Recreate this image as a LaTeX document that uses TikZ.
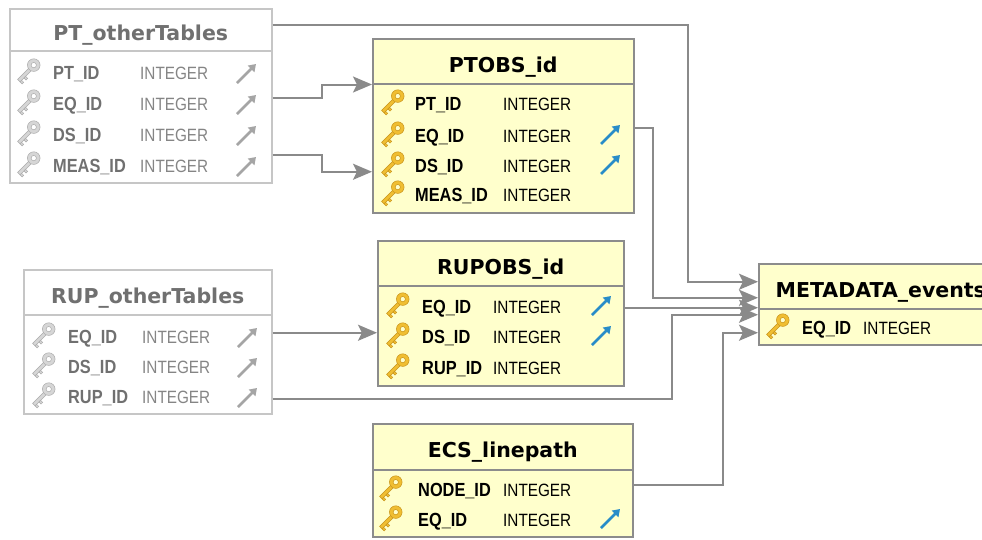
\documentclass[tikz,border=0pt]{standalone}
\usepackage{fontspec}
\setmainfont{Liberation Sans}
\newfontfamily\titlefont{DejaVu Sans}
\newfontfamily\fieldfont{Liberation Sans}[FakeStretch=0.86]
\usetikzlibrary{arrows.meta}

\definecolor{tabfill}{RGB}{255,255,204}
\definecolor{tabedge}{RGB}{140,140,140}
\definecolor{otheredge}{RGB}{198,198,198}
\definecolor{othertext}{RGB}{112,112,112}
\definecolor{linkgray}{RGB}{138,138,138}
\definecolor{keygold}{RGB}{240,190,50}
\definecolor{keygoldedge}{RGB}{200,148,28}
\definecolor{keygray}{RGB}{214,214,214}
\definecolor{keygrayedge}{RGB}{172,172,172}
\definecolor{fkblue}{RGB}{40,140,200}
\definecolor{fkgray}{RGB}{165,165,165}

\tikzset{
  tab/.style={draw=tabedge, fill=tabfill, line width=1.5pt, anchor=north west, inner sep=0pt},
  othertab/.style={draw=otheredge, fill=white, line width=1.5pt, anchor=north west, inner sep=0pt, text=othertext},
  tabtitle/.style={font=\titlefont\bfseries\fontsize{20.5}{24}\selectfont, text height=22pt, text depth=0pt},
  fieldname/.style={anchor=west, inner sep=0pt, text height=13.6pt, text depth=0pt, font=\fieldfont\bfseries\fontsize{19}{22}\selectfont},
  fieldtype/.style={anchor=west, inner sep=0pt, text height=12.7pt, text depth=0pt, font=\fieldfont\fontsize{17.8}{21}\selectfont},
  othername/.style={fieldname, text=othertext},
  othertype/.style={fieldtype, text=othertext!85},
  link/.style={draw=linkgray, line width=2pt, -{Stealth[length=19pt,width=16pt,inset=4pt]}},
  pics/pkkey/.style 2 args={code={
    \begin{scope}[scale=1.15]
    \filldraw[fill=#1, draw=#2, line width=0.5pt] (0.9,-3.6) -- (3.1,-1.4) -- (-6.9,8.6) -- (-9.1,6.4) -- cycle;
    \filldraw[fill=#1, draw=#2, line width=0.5pt] (-2.1,3.8) -- (-3.5,5.2) -- (-1.7,7.0) -- (-0.3,5.6) -- cycle;
    \filldraw[fill=#1, draw=#2, line width=0.5pt] (-5.5,7.2) -- (-6.9,8.6) -- (-5.1,10.4) -- (-3.7,9.0) -- cycle;
    \filldraw[fill=#1, draw=#2, line width=0.5pt, even odd rule] (5,-6) circle (5.5) (5,-6) circle (2.3);
    \end{scope}
  }},
  pics/fkarrow/.style={code={
    \draw[#1, line width=2.8pt, -{Triangle[length=7pt,width=9pt]}] (-10,10) -- (9,-9);
  }},
}

\begin{document}
\begin{tikzpicture}[x=1pt, y=-1pt]
  \useasboundingbox (0,0) rectangle (982,539);
  \fill[white] (0,0) rectangle (982,539);

  % PT_otherTables
  \node[othertab, tabtitle, minimum width=262, minimum height=42] (ptHead) at (9,8) {PT\_otherTables};
  \node[othertab, minimum width=262, minimum height=132] (ptBody) at (9,50) {};
  \pic at (28,72) {pkkey={keygray}{keygrayedge}};
  \node[othername] (ptPT) at (53,73) {PT\_ID};
  \node[othertype] (ptPTt) at (140,73) {INTEGER};
  \pic at (247,73) {fkarrow=fkgray};
  \pic at (28,103) {pkkey={keygray}{keygrayedge}};
  \node[othername] (ptEQ) at (53,104) {EQ\_ID};
  \node[othertype] (ptEQt) at (140,104) {INTEGER};
  \pic at (247,104) {fkarrow=fkgray};
  \pic at (28,134) {pkkey={keygray}{keygrayedge}};
  \node[othername] (ptDS) at (53,135) {DS\_ID};
  \node[othertype] (ptDSt) at (140,135) {INTEGER};
  \pic at (247,135) {fkarrow=fkgray};
  \pic at (28,165) {pkkey={keygray}{keygrayedge}};
  \node[othername] (ptMEAS) at (53,166) {MEAS\_ID};
  \node[othertype] (ptMEASt) at (140,166) {INTEGER};
  \pic at (247,166) {fkarrow=fkgray};

  % PTOBS_id
  \node[tab, tabtitle, minimum width=261, minimum height=45] (ptobsHead) at (372,38) {PTOBS\_id};
  \node[tab, minimum width=261, minimum height=129] (ptobsBody) at (372,83) {};
  \pic at (392,103) {pkkey={keygold}{keygoldedge}};
  \node[fieldname] (ptobsPT) at (415,104) {PT\_ID};
  \node[fieldtype] (ptobsPTt) at (503,104) {INTEGER};
  \pic at (392,135) {pkkey={keygold}{keygoldedge}};
  \node[fieldname] (ptobsEQ) at (415,136) {EQ\_ID};
  \node[fieldtype] (ptobsEQt) at (503,136) {INTEGER};
  \pic at (611,134) {fkarrow=fkblue};
  \pic at (392,165) {pkkey={keygold}{keygoldedge}};
  \node[fieldname] (ptobsDS) at (415,166) {DS\_ID};
  \node[fieldtype] (ptobsDSt) at (503,166) {INTEGER};
  \pic at (611,164) {fkarrow=fkblue};
  \pic at (392,194) {pkkey={keygold}{keygoldedge}};
  \node[fieldname] (ptobsMEAS) at (415,195) {MEAS\_ID};
  \node[fieldtype] (ptobsMEASt) at (503,195) {INTEGER};

  % RUP_otherTables
  \node[othertab, tabtitle, minimum width=248, minimum height=45] (rupHead) at (23,269) {RUP\_otherTables};
  \node[othertab, minimum width=248, minimum height=99] (rupBody) at (23,314) {};
  \pic at (43,336) {pkkey={keygray}{keygrayedge}};
  \node[othername] (rupEQ) at (68,337) {EQ\_ID};
  \node[othertype] (rupEQt) at (142,337) {INTEGER};
  \pic at (248,337) {fkarrow=fkgray};
  \pic at (43,366) {pkkey={keygray}{keygrayedge}};
  \node[othername] (rupDS) at (68,367) {DS\_ID};
  \node[othertype] (rupDSt) at (142,367) {INTEGER};
  \pic at (248,367) {fkarrow=fkgray};
  \pic at (43,396) {pkkey={keygray}{keygrayedge}};
  \node[othername] (rupRUP) at (68,397) {RUP\_ID};
  \node[othertype] (rupRUPt) at (142,397) {INTEGER};
  \pic at (248,397) {fkarrow=fkgray};

  % RUPOBS_id
  \node[tab, tabtitle, minimum width=246, minimum height=45] (rupobsHead) at (377,240) {RUPOBS\_id};
  \node[tab, minimum width=246, minimum height=100] (rupobsBody) at (377,285) {};
  \pic at (397,306) {pkkey={keygold}{keygoldedge}};
  \node[fieldname] (rupobsEQ) at (422,307) {EQ\_ID};
  \node[fieldtype] (rupobsEQt) at (493,307) {INTEGER};
  \pic at (602,305) {fkarrow=fkblue};
  \pic at (397,336) {pkkey={keygold}{keygoldedge}};
  \node[fieldname] (rupobsDS) at (422,337) {DS\_ID};
  \node[fieldtype] (rupobsDSt) at (493,337) {INTEGER};
  \pic at (602,335) {fkarrow=fkblue};
  \pic at (397,367) {pkkey={keygold}{keygoldedge}};
  \node[fieldname] (rupobsRUP) at (422,368) {RUP\_ID};
  \node[fieldtype] (rupobsRUPt) at (493,368) {INTEGER};

  % ECS_linepath
  \node[tab, tabtitle, minimum width=260, minimum height=46] (ecsHead) at (372,423) {ECS\_linepath};
  \node[tab, minimum width=260, minimum height=67] (ecsBody) at (372,469) {};
  \pic at (390,489) {pkkey={keygold}{keygoldedge}};
  \node[fieldname] (ecsNODE) at (418,490) {NODE\_ID};
  \node[fieldtype] (ecsNODEt) at (503,490) {INTEGER};
  \pic at (390,519) {pkkey={keygold}{keygoldedge}};
  \node[fieldname] (ecsEQ) at (418,520) {EQ\_ID};
  \node[fieldtype] (ecsEQt) at (503,520) {INTEGER};
  \pic at (611,518) {fkarrow=fkblue};

  % METADATA_events
  \node[tab, tabtitle, minimum width=244, minimum height=45] (metaHead) at (758,263) {METADATA\_events};
  \node[tab, minimum width=244, minimum height=36] (metaBody) at (758,308) {};
  \pic at (777,327) {pkkey={keygold}{keygoldedge}};
  \node[fieldname] (metaEQ) at (802,328) {EQ\_ID};
  \node[fieldtype] (metaEQt) at (863,328) {INTEGER};

  % Connectors
  \draw[link] ([yshift=19]ptBody.east) -| ([xshift=-50]ptobsHead.south west) -- (ptobsHead.south west);
  \draw[link] ([yshift=-38]ptBody.east) -| ([xshift=-50,yshift=-23.5]ptobsBody.west) -- ([yshift=-23.5]ptobsBody.west);
  \draw[link] ([yshift=31.5]rupBody.east) -- ([yshift=3]rupobsBody.west);
  \draw[link] ([yshift=5]ptHead.east) -| ([xshift=-70,yshift=4.5]metaHead.west) -- ([yshift=4.5]metaHead.west);
  \draw[link] ([yshift=20.5]ptobsBody.east) -| ([xshift=-105,yshift=-11.5]metaHead.west) -- ([yshift=-11.5]metaHead.west);
  \draw[link] ([yshift=28]rupobsBody.east) -- ([yshift=-21.5]metaHead.west);
  \draw[link] ([yshift=-34.5]rupBody.east) -| ([xshift=-86,yshift=12]metaBody.west) -- ([yshift=12]metaBody.west);
  \draw[link] ([yshift=18.5]ecsBody.east) -| ([xshift=-35,yshift=-6]metaBody.west) -- ([yshift=-6]metaBody.west);
\end{tikzpicture}
\end{document}
